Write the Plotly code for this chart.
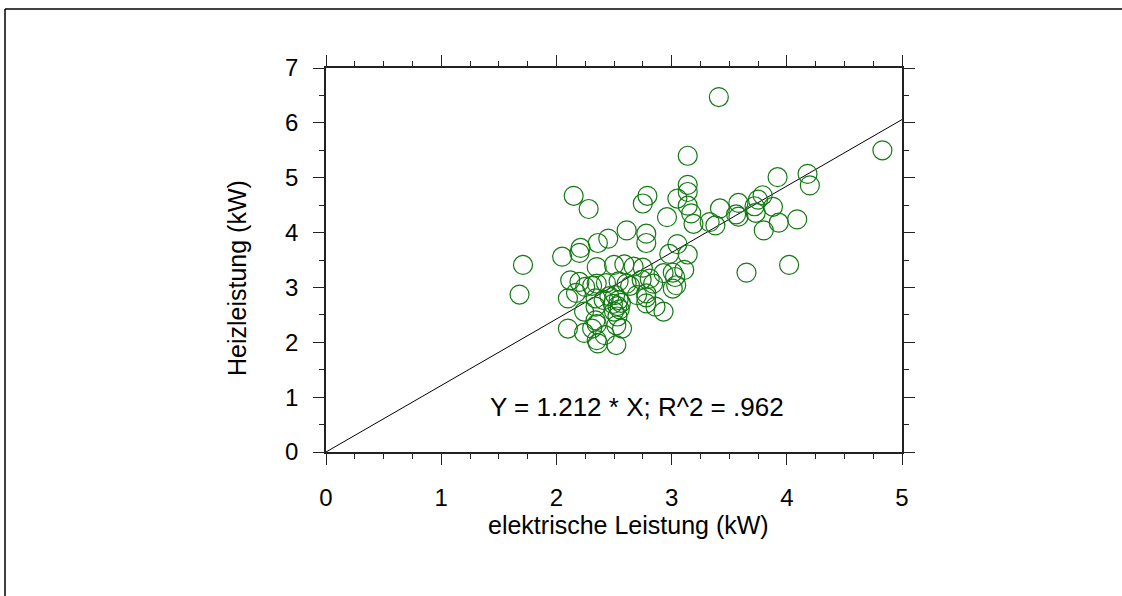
import plotly.graph_objects as go

# elektrische Leistung (kW)
x_vals = [3.41, 4.83, 3.14, 4.18, 4.20, 3.92, 2.15, 3.14, 3.14, 3.05,
          2.79, 2.75, 3.14, 3.17, 3.19, 2.96, 2.28, 3.42, 3.33, 3.38,
          3.56, 3.58, 3.58, 3.72, 3.75, 3.79, 3.73, 3.88, 3.80, 3.93,
          4.09, 3.65, 4.02, 2.61, 2.78, 2.78, 3.05, 2.45, 2.36, 2.21,
          2.20, 2.05, 2.98, 3.14, 1.71, 1.68, 2.35, 2.50, 2.59, 2.67,
          2.75, 2.93, 3.01, 3.11, 3.03, 2.12, 2.20, 2.25, 2.31, 2.35,
          2.43, 2.54, 2.61, 2.64, 2.74, 2.81, 2.84, 3.01, 3.04, 2.10,
          2.17, 2.34, 2.41, 2.46, 2.51, 2.54, 2.53, 2.50, 2.55, 2.53,
          2.56, 2.49, 2.70, 2.78, 2.78, 2.86, 2.93, 2.34, 2.24, 2.34,
          2.10, 2.24, 2.31, 2.35, 2.52, 2.57, 2.42, 2.35, 2.36, 2.52,
          2.78]
# Heizleistung (kW)
y_vals = [6.47, 5.50, 5.40, 5.07, 4.86, 5.01, 4.67, 4.87, 4.74, 4.62,
          4.67, 4.53, 4.49, 4.35, 4.16, 4.28, 4.43, 4.44, 4.19, 4.13,
          4.33, 4.29, 4.54, 4.48, 4.60, 4.68, 4.36, 4.47, 4.04, 4.18,
          4.24, 3.27, 3.41, 4.04, 3.98, 3.81, 3.79, 3.89, 3.81, 3.72,
          3.63, 3.56, 3.61, 3.60, 3.41, 2.87, 3.37, 3.41, 3.42, 3.38,
          3.36, 3.26, 3.27, 3.32, 3.19, 3.13, 3.10, 3.01, 3.03, 3.07,
          3.08, 3.11, 3.07, 3.03, 3.14, 3.16, 3.07, 2.98, 3.04, 2.80,
          2.90, 2.80, 2.77, 2.84, 2.86, 2.77, 2.66, 2.56, 2.60, 2.47,
          2.72, 2.70, 2.86, 2.82, 2.71, 2.65, 2.56, 2.65, 2.56, 2.40,
          2.25, 2.17, 2.25, 2.33, 2.31, 2.25, 2.13, 2.04, 1.98, 1.95,
          2.89]

slope = 1.212
fit_x = [0, 5]
fit_y = [slope * v for v in fit_x]

x_ticks = [0, 1, 2, 3, 4, 5]
y_ticks = [0, 1, 2, 3, 4, 5, 6, 7]

fig = go.Figure()
fig.add_trace(go.Scatter(x=fit_x, y=fit_y, mode="lines",
                         line=dict(color="black", width=1), showlegend=False,
                         hoverinfo="skip"))
fig.add_trace(go.Scatter(x=x_vals, y=y_vals, mode="markers",
                         marker=dict(symbol="circle-open", size=19,
                                     line=dict(color="#137a13", width=1.2),
                                     color="#137a13"),
                         showlegend=False))

fig.add_annotation(x=2.70, y=0.82, text="Y = 1.212 * X; R^2 = .962",
                   showarrow=False, xanchor="center", yanchor="middle",
                   font=dict(size=26, color="black"))

# axis titles
fig.add_annotation(xref="paper", yref="paper", x=0.526, y=-0.19,
                   xanchor="center", yanchor="middle",
                   text="elektrische Leistung (kW)", showarrow=False,
                   font=dict(size=25, color="black"))
fig.add_annotation(xref="paper", yref="paper", x=-0.1545, y=0.453,
                   xanchor="center", yanchor="middle",
                   text="Heizleistung (kW)", showarrow=False, textangle=-90,
                   font=dict(size=25, color="black"))

axis_common = dict(showline=True, linecolor="#222", linewidth=1.5,
                   mirror="allticks", ticks="outside", ticklen=11,
                   tickwidth=1, tickcolor="#222", showgrid=False,
                   zeroline=False,
                   tickfont=dict(size=24, color="black"))

fig.update_xaxes(range=[0, 5], tickvals=x_ticks,
                 ticktext=[str(v) for v in x_ticks],
                 minor=dict(dtick=0.25, ticks="outside", ticklen=5,
                            tickcolor="#222", showgrid=False),
                 ticklabelstandoff=12,
                 **axis_common)
fig.update_yaxes(range=[0, 7], tickvals=y_ticks,
                 ticktext=[str(v) for v in y_ticks],
                 minor=dict(dtick=0.5, ticks="outside", ticklen=5,
                            tickcolor="#222", showgrid=False),
                 ticklabelstandoff=10,
                 **axis_common)

# outer frame (top and left edges visible)
fig.add_shape(type="line", xref="paper", yref="paper", x0=-321 / 576,
              x1=796 / 576, y0=1 + 59 / 384, y1=1 + 59 / 384,
              line=dict(color="black", width=1.5))
fig.add_shape(type="line", xref="paper", yref="paper", x0=-321 / 576,
              x1=-321 / 576, y0=1 + 59 / 384, y1=-144 / 384,
              line=dict(color="black", width=1.5))

fig.update_layout(width=1122, height=596,
                  margin=dict(l=326, r=220, t=68, b=144),
                  paper_bgcolor="white", plot_bgcolor="white",
                  font=dict(family="Liberation Sans, Arial, Helvetica, sans-serif",
                            color="black"))

fig.write_html("out.html")
